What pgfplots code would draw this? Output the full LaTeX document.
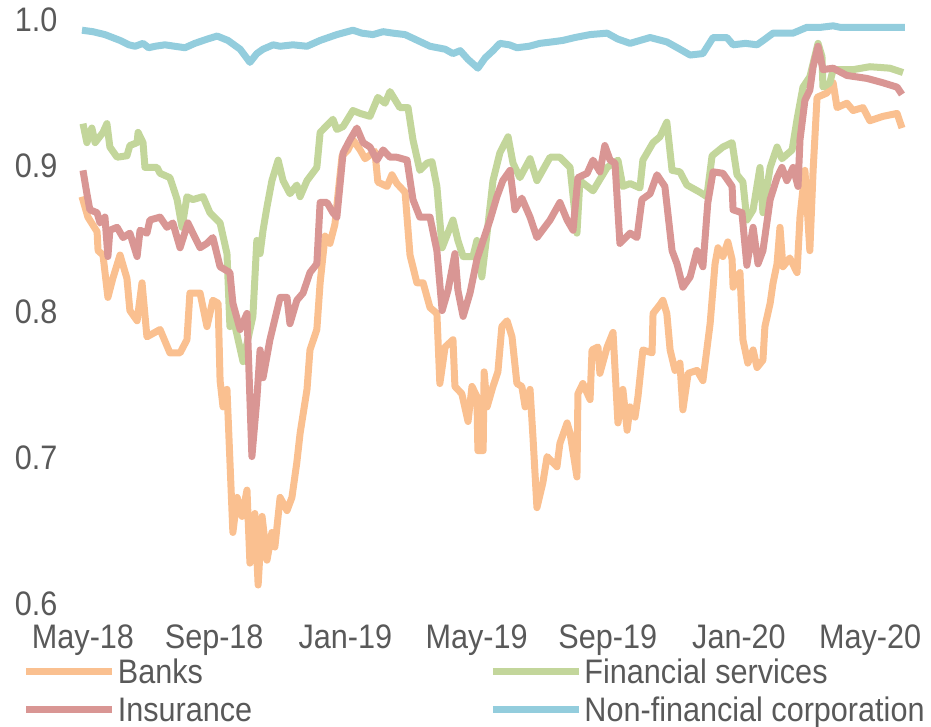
\documentclass[border=0pt]{standalone}
\usepackage{pgfplots}
\pgfplotsset{compat=1.18}
\usepackage{fontspec}
\setmainfont{Liberation Sans}[FakeStretch=0.9]
\definecolor{cBanks}{HTML}{FAC090}
\definecolor{cFin}{HTML}{C3D69B}
\definecolor{cIns}{HTML}{D99694}
\definecolor{cNon}{HTML}{93CDDD}
\definecolor{cTxt}{HTML}{595959}
\begin{document}
\fontsize{34}{40}\selectfont
\begin{tikzpicture}
\useasboundingbox (-79.7pt,-123pt) rectangle (851.3pt,604pt);
\begin{axis}[
  at={(0,0)}, anchor=south west,
  scale only axis, width=828.2pt, height=584pt,
  xmin=-0.1, xmax=25.15, ymin=0.6, ymax=1.0,
  axis line style={draw=none},
  major tick length=0pt,
  xtick={0,4,8,12,16,20,24},
  xticklabels={May-18,Sep-18,Jan-19,May-19,Sep-19,Jan-20,May-20},
  ytick={0.6,0.7,0.8,0.9,1.0},
  yticklabel style={/pgf/number format/.cd,fixed,fixed zerofill,precision=1,/tikz/.cd},
  /pgf/number format/assume math mode=true,
  ticklabel style={font=\fontsize{34}{40}\selectfont, text=cTxt},
  xticklabel style={anchor=north, inner sep=0pt, yshift=-21pt},
  yticklabel style={anchor=east, inner sep=0pt, xshift=-22pt},
  clip=false,
  every axis plot/.append style={line width=7pt, line join=round, mark=none},
  legend columns=2,
  legend cell align=left,
  legend style={at={(axis description cs:-0.0689,-0.094)}, anchor=north west,
    draw=none, fill=none, inner sep=0pt, row sep=8pt,
    font=\fontsize{34}{40}\selectfont, text=cTxt,
    nodes={inner sep=0pt, anchor=base west},
    /tikz/every even column/.append style={column sep=6pt},
    /tikz/every odd column/.append style={column sep=2pt}},
  legend image code/.code={\draw[#1, line width=7pt] (0pt,0.35em) -- (86pt,0.35em);},
]
\addplot[cBanks] coordinates {
(-0.03,0.879)(0.15,0.865)(0.43,0.855)(0.46,0.842)(0.61,0.839)(0.76,0.810)(0.91,0.823)(1.13,0.839)(1.34,0.823)(1.43,0.801)(1.65,0.794)(1.80,0.820)(1.95,0.783)(2.35,0.788)(2.65,0.772)(2.96,0.772)(3.17,0.781)(3.26,0.813)(3.57,0.813)(3.78,0.790)(3.96,0.808)(4.12,0.806)(4.18,0.753)(4.27,0.735)(4.39,0.747)(4.57,0.649)(4.70,0.673)(4.85,0.660)(5.00,0.678)(5.09,0.628)(5.24,0.662)(5.34,0.613)(5.46,0.660)(5.61,0.630)(5.76,0.649)(5.85,0.639)(6.01,0.673)(6.22,0.664)(6.37,0.673)(6.52,0.697)(6.62,0.717)(6.83,0.747)(6.92,0.774)(7.13,0.788)(7.23,0.820)(7.38,0.852)(7.53,0.847)(7.68,0.860)(7.90,0.907)(8.08,0.911)(8.23,0.918)(8.45,0.911)(8.60,0.905)(8.90,0.910)(8.99,0.889)(9.27,0.886)(9.42,0.894)(9.57,0.888)(9.82,0.882)(9.97,0.839)(10.18,0.820)(10.37,0.820)(10.58,0.803)(10.79,0.799)(10.88,0.751)(11.04,0.776)(11.28,0.781)(11.34,0.749)(11.55,0.744)(11.74,0.725)(11.86,0.749)(12.01,0.742)(12.04,0.705)(12.20,0.705)(12.23,0.759)(12.32,0.735)(12.50,0.749)(12.65,0.759)(12.77,0.790)(12.93,0.794)(13.08,0.783)(13.23,0.751)(13.38,0.749)(13.48,0.735)(13.63,0.747)(13.72,0.714)(13.84,0.666)(14.02,0.683)(14.15,0.701)(14.45,0.694)(14.54,0.710)(14.76,0.724)(14.85,0.717)(15.06,0.687)(15.09,0.744)(15.24,0.751)(15.46,0.740)(15.52,0.774)(15.70,0.776)(15.76,0.758)(15.98,0.776)(16.16,0.786)(16.31,0.724)(16.46,0.747)(16.59,0.719)(16.68,0.735)(16.83,0.728)(16.92,0.742)(17.07,0.774)(17.35,0.772)(17.38,0.799)(17.59,0.805)(17.68,0.808)(17.80,0.799)(17.90,0.774)(18.05,0.760)(18.20,0.765)(18.29,0.733)(18.45,0.758)(18.72,0.760)(18.90,0.753)(19.12,0.792)(19.27,0.833)(19.36,0.844)(19.51,0.838)(19.66,0.848)(19.79,0.836)(19.82,0.817)(20.03,0.827)(20.12,0.781)(20.27,0.765)(20.43,0.774)(20.55,0.762)(20.73,0.767)(20.79,0.790)(20.95,0.806)(21.04,0.820)(21.16,0.833)(21.25,0.858)(21.34,0.831)(21.55,0.837)(21.77,0.827)(21.86,0.865)(22.01,0.897)(22.16,0.842)(22.26,0.897)(22.38,0.947)(22.68,0.950)(22.87,0.957)(22.99,0.940)(23.29,0.943)(23.48,0.938)(23.78,0.940)(23.99,0.931)(24.39,0.934)(24.82,0.936)(24.97,0.926)
};
\addlegendentry{\makebox[365.6pt][l]{Banks}}
\addplot[cFin] coordinates {
(0.00,0.929)(0.12,0.916)(0.27,0.926)(0.37,0.916)(0.61,0.923)(0.73,0.929)(0.82,0.913)(1.04,0.906)(1.34,0.907)(1.43,0.914)(1.65,0.916)(1.68,0.923)(1.83,0.916)(1.89,0.899)(2.26,0.899)(2.35,0.895)(2.65,0.892)(2.74,0.886)(2.87,0.877)(3.02,0.858)(3.17,0.879)(3.35,0.877)(3.66,0.879)(3.87,0.868)(4.18,0.861)(4.39,0.840)(4.48,0.790)(4.57,0.797)(4.88,0.766)(5.18,0.797)(5.30,0.849)(5.40,0.840)(5.49,0.856)(5.61,0.872)(5.76,0.890)(5.95,0.904)(6.10,0.890)(6.31,0.881)(6.52,0.887)(6.62,0.879)(6.83,0.890)(7.13,0.899)(7.23,0.923)(7.62,0.932)(7.74,0.925)(7.93,0.927)(8.23,0.938)(8.45,0.936)(8.75,0.934)(8.99,0.947)(9.21,0.943)(9.36,0.951)(9.66,0.940)(9.91,0.940)(10.06,0.918)(10.27,0.897)(10.49,0.902)(10.64,0.903)(10.79,0.886)(10.95,0.844)(11.28,0.863)(11.43,0.849)(11.59,0.838)(11.89,0.838)(12.01,0.849)(12.16,0.824)(12.32,0.854)(12.50,0.890)(12.71,0.909)(12.96,0.920)(13.11,0.902)(13.32,0.892)(13.63,0.905)(13.84,0.890)(14.24,0.906)(14.54,0.906)(14.85,0.899)(15.06,0.854)(15.15,0.890)(15.55,0.883)(15.98,0.899)(16.31,0.904)(16.46,0.886)(16.68,0.888)(16.98,0.885)(17.07,0.904)(17.38,0.916)(17.59,0.920)(17.80,0.930)(17.96,0.897)(18.20,0.896)(18.41,0.887)(18.81,0.882)(19.02,0.879)(19.18,0.907)(19.51,0.913)(19.79,0.916)(19.94,0.894)(20.12,0.889)(20.24,0.863)(20.43,0.870)(20.64,0.899)(20.73,0.868)(20.95,0.899)(21.16,0.913)(21.31,0.905)(21.62,0.911)(21.77,0.932)(21.95,0.954)(22.16,0.961)(22.41,0.984)(22.53,0.975)(22.56,0.954)(22.77,0.957)(22.87,0.966)(23.48,0.966)(23.99,0.968)(24.60,0.967)(25.00,0.964)
};
\addlegendentry{Financial services}
\addplot[cIns] coordinates {
(0.00,0.897)(0.12,0.881)(0.21,0.870)(0.43,0.868)(0.52,0.861)(0.67,0.865)(0.76,0.838)(0.82,0.856)(1.04,0.858)(1.22,0.851)(1.43,0.854)(1.65,0.838)(1.74,0.856)(1.95,0.854)(2.04,0.863)(2.35,0.865)(2.56,0.858)(2.74,0.861)(2.96,0.844)(3.20,0.861)(3.35,0.854)(3.57,0.844)(3.78,0.847)(3.96,0.851)(4.18,0.831)(4.48,0.827)(4.57,0.806)(4.79,0.788)(5.00,0.799)(5.15,0.701)(5.30,0.740)(5.40,0.774)(5.49,0.755)(5.70,0.781)(6.01,0.810)(6.22,0.810)(6.31,0.792)(6.52,0.808)(6.71,0.813)(6.92,0.827)(7.13,0.833)(7.23,0.875)(7.44,0.875)(7.62,0.868)(7.74,0.865)(7.93,0.909)(8.14,0.918)(8.35,0.926)(8.54,0.916)(8.75,0.913)(8.96,0.904)(9.15,0.911)(9.36,0.906)(9.57,0.906)(9.88,0.904)(10.06,0.877)(10.27,0.865)(10.58,0.865)(10.79,0.842)(10.95,0.801)(11.13,0.815)(11.34,0.840)(11.43,0.815)(11.59,0.797)(11.80,0.813)(12.01,0.836)(12.20,0.849)(12.41,0.863)(12.62,0.879)(12.80,0.890)(13.02,0.897)(13.17,0.870)(13.38,0.878)(13.63,0.865)(13.84,0.851)(14.24,0.863)(14.54,0.875)(14.76,0.863)(14.94,0.856)(15.09,0.892)(15.37,0.895)(15.55,0.904)(15.76,0.896)(15.91,0.914)(16.07,0.904)(16.22,0.902)(16.37,0.847)(16.68,0.854)(16.89,0.851)(17.04,0.877)(17.29,0.881)(17.50,0.894)(17.74,0.886)(17.96,0.842)(18.11,0.833)(18.29,0.817)(18.51,0.824)(18.72,0.842)(18.90,0.831)(19.05,0.875)(19.21,0.896)(19.51,0.895)(19.79,0.886)(19.82,0.870)(20.09,0.868)(20.24,0.832)(20.43,0.858)(20.58,0.833)(20.73,0.842)(20.95,0.877)(21.16,0.892)(21.31,0.899)(21.46,0.890)(21.65,0.899)(21.80,0.886)(21.86,0.918)(22.01,0.945)(22.16,0.952)(22.26,0.968)(22.41,0.982)(22.56,0.966)(22.87,0.967)(23.29,0.962)(23.90,0.960)(24.39,0.957)(24.82,0.954)(24.97,0.949)
};
\addlegendentry{\makebox[365.6pt][l]{Insurance}}
\addplot[cNon] coordinates {
(-0.03,0.993)(0.30,0.992)(0.67,0.990)(1.13,0.986)(1.40,0.983)(1.59,0.982)(1.83,0.984)(2.00,0.981)(2.20,0.982)(2.50,0.983)(2.80,0.982)(3.11,0.981)(3.41,0.984)(3.80,0.987)(4.09,0.989)(4.42,0.986)(4.79,0.980)(5.09,0.971)(5.30,0.977)(5.49,0.980)(5.80,0.983)(6.01,0.982)(6.40,0.983)(6.83,0.982)(7.23,0.986)(7.74,0.990)(8.23,0.993)(8.50,0.991)(8.84,0.990)(9.15,0.992)(9.45,0.991)(9.82,0.990)(10.20,0.986)(10.58,0.982)(11.04,0.980)(11.28,0.977)(11.50,0.979)(11.74,0.973)(12.04,0.967)(12.26,0.974)(12.50,0.979)(12.71,0.984)(13.00,0.983)(13.23,0.981)(13.60,0.982)(13.93,0.984)(14.30,0.985)(14.63,0.986)(15.00,0.988)(15.46,0.990)(15.98,0.991)(16.30,0.987)(16.68,0.984)(17.29,0.988)(17.80,0.985)(18.20,0.980)(18.51,0.976)(18.90,0.977)(19.21,0.988)(19.63,0.988)(19.82,0.983)(20.20,0.984)(20.55,0.983)(20.80,0.987)(21.04,0.991)(21.65,0.991)(22.07,0.995)(22.50,0.995)(22.87,0.996)(23.08,0.995)(25.06,0.995)
};
\addlegendentry{Non-financial corporation}
\end{axis}
\end{tikzpicture}
\end{document}
